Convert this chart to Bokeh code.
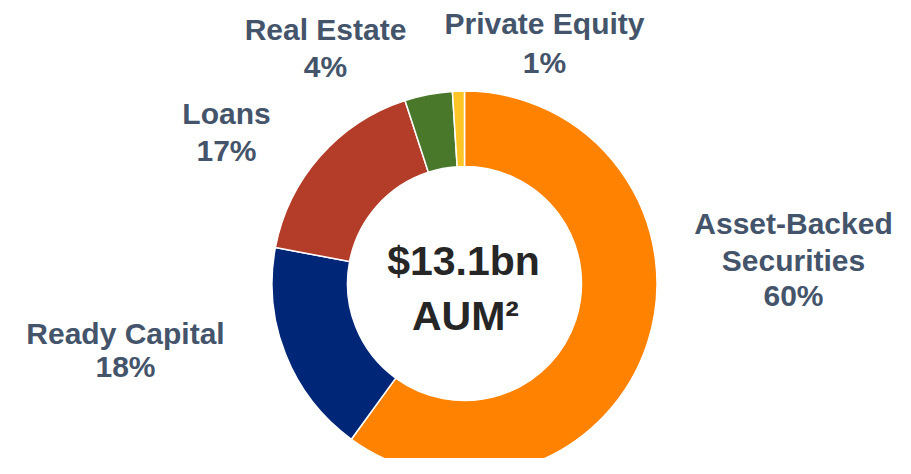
from bokeh.plotting import figure
from bokeh.models import Range1d, ColumnDataSource
from bokeh.core.properties import value
from bokeh.embed import file_html
from bokeh.resources import INLINE
import math

# ---- data ----
categories = ["Asset-Backed Securities", "Ready Capital", "Loans", "Real Estate", "Private Equity"]
shares = [60, 18, 17, 4, 1]
colors = ["#FF8200", "#002677", "#B33D29", "#4A782A", "#FFC425"]
label_lines = [["Asset-Backed", "Securities", "60%"],
               ["Ready Capital", "18%"],
               ["Loans", "17%"],
               ["Real Estate", "4%"],
               ["Private Equity", "1%"]]
center_lines = ["$13.1bn", "AUM\u00b2"]

# ---- layout (screen pixel coordinates) ----
W, H = 895, 458
CX, CY = 464, 283
R_OUT, R_IN = 192.5, 117
LBL_SHIFT, CTR_SHIFT = 10, 15
label_pos = [(793, [233, 270, 305]),
             (125, [343, 376]),
             (226, [123, 160]),
             (325, [39, 76]),
             (544, [33, 72])]
center_pos = [(463, 275), (465, 330)]

def sy(y):
    return H - y

p = figure(width=W, height=H, output_backend="svg", toolbar_location=None,
           x_range=Range1d(0, W), y_range=Range1d(0, H),
           min_border=0, outline_line_color=None)
p.axis.visible = False
p.grid.visible = False
p.background_fill_color = "white"
p.border_fill_color = "white"

total = sum(shares)
starts, ends = [], []
cum = 0
for s in shares:
    starts.append(math.pi / 2 - 2 * math.pi * cum / total)
    cum += s
    ends.append(math.pi / 2 - 2 * math.pi * cum / total)

src = ColumnDataSource(dict(start=starts, end=ends, color=colors, cat=categories))
p.annular_wedge(x=CX, y=sy(CY), inner_radius=R_IN, outer_radius=R_OUT,
                start_angle="start", end_angle="end", direction="clock",
                fill_color="color", line_color="white", line_width=1.5, source=src)

xs, ys, ts = [], [], []
for (lx, bys), lines in zip(label_pos, label_lines):
    for by, t in zip(bys, lines):
        xs.append(lx); ys.append(sy(by - LBL_SHIFT)); ts.append(t)
p.text(x=xs, y=ys, text=ts, text_align="center", text_baseline="alphabetic",
       text_font=value("Liberation Sans"), text_font_style="bold",
       text_font_size="30px", text_color="#44546A")

p.text(x=[c[0] for c in center_pos], y=[sy(c[1] - CTR_SHIFT) for c in center_pos],
       text=center_lines, text_align="center", text_baseline="alphabetic",
       text_font=value("Liberation Sans"), text_font_style="bold",
       text_font_size="41px", text_color="#262626")

open("out.html", "w").write(file_html(p, INLINE))
